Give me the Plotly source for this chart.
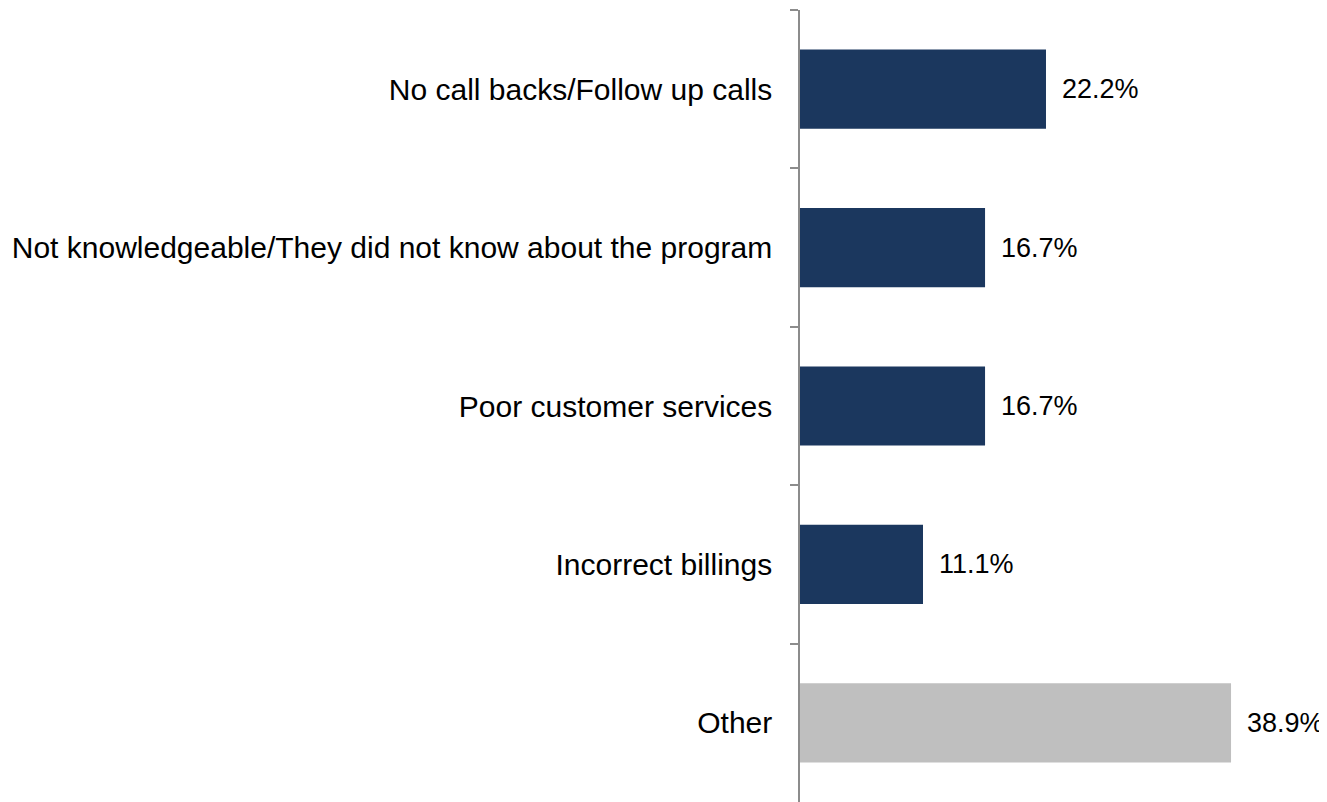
import plotly.graph_objects as go

categories = [
    "No call backs/Follow up calls",
    "Not knowledgeable/They did not know about the program",
    "Poor customer services",
    "Incorrect billings",
    "Other",
]
values = [22.2, 16.7, 16.7, 11.1, 38.9]
colors = ["#1b375e", "#1b375e", "#1b375e", "#1b375e", "#bfbfbf"]
value_labels = ["22.2%", "16.7%", "16.7%", "11.1%", "38.9%"]

FONT = "Liberation Sans, Arial, sans-serif"

fig = go.Figure()
fig.add_trace(go.Bar(
    x=values,
    y=categories,
    orientation="h",
    marker=dict(color=colors, line=dict(width=0)),
    width=0.5,
    hoverinfo="skip",
))

for cat, val, lab in zip(categories, values, value_labels):
    fig.add_annotation(
        x=val, y=cat, text=lab, showarrow=False,
        xanchor="left", yanchor="middle", xshift=14,
        font=dict(family=FONT, size=27, color="#000000"),
    )

fig.update_layout(
    width=1319, height=794,
    margin=dict(l=792, r=0, t=2, b=0),
    paper_bgcolor="white", plot_bgcolor="white",
    showlegend=False,
    font=dict(family=FONT, size=30, color="#000000"),
)
fig.update_xaxes(
    range=[0, 47.56], showticklabels=False, showgrid=False,
    zeroline=False, showline=False, ticks="",
)
fig.update_yaxes(
    type="category", autorange="reversed",
    showline=True, linecolor="#8c8c8c", linewidth=1.5,
    ticks="outside", tickson="boundaries", ticklen=8,
    tickcolor="#8c8c8c", tickwidth=1.5,
    showgrid=False, zeroline=False,
    tickfont=dict(family=FONT, size=30, color="#000000"),
    ticklabelstandoff=20,
)

fig.write_html("out.html")
